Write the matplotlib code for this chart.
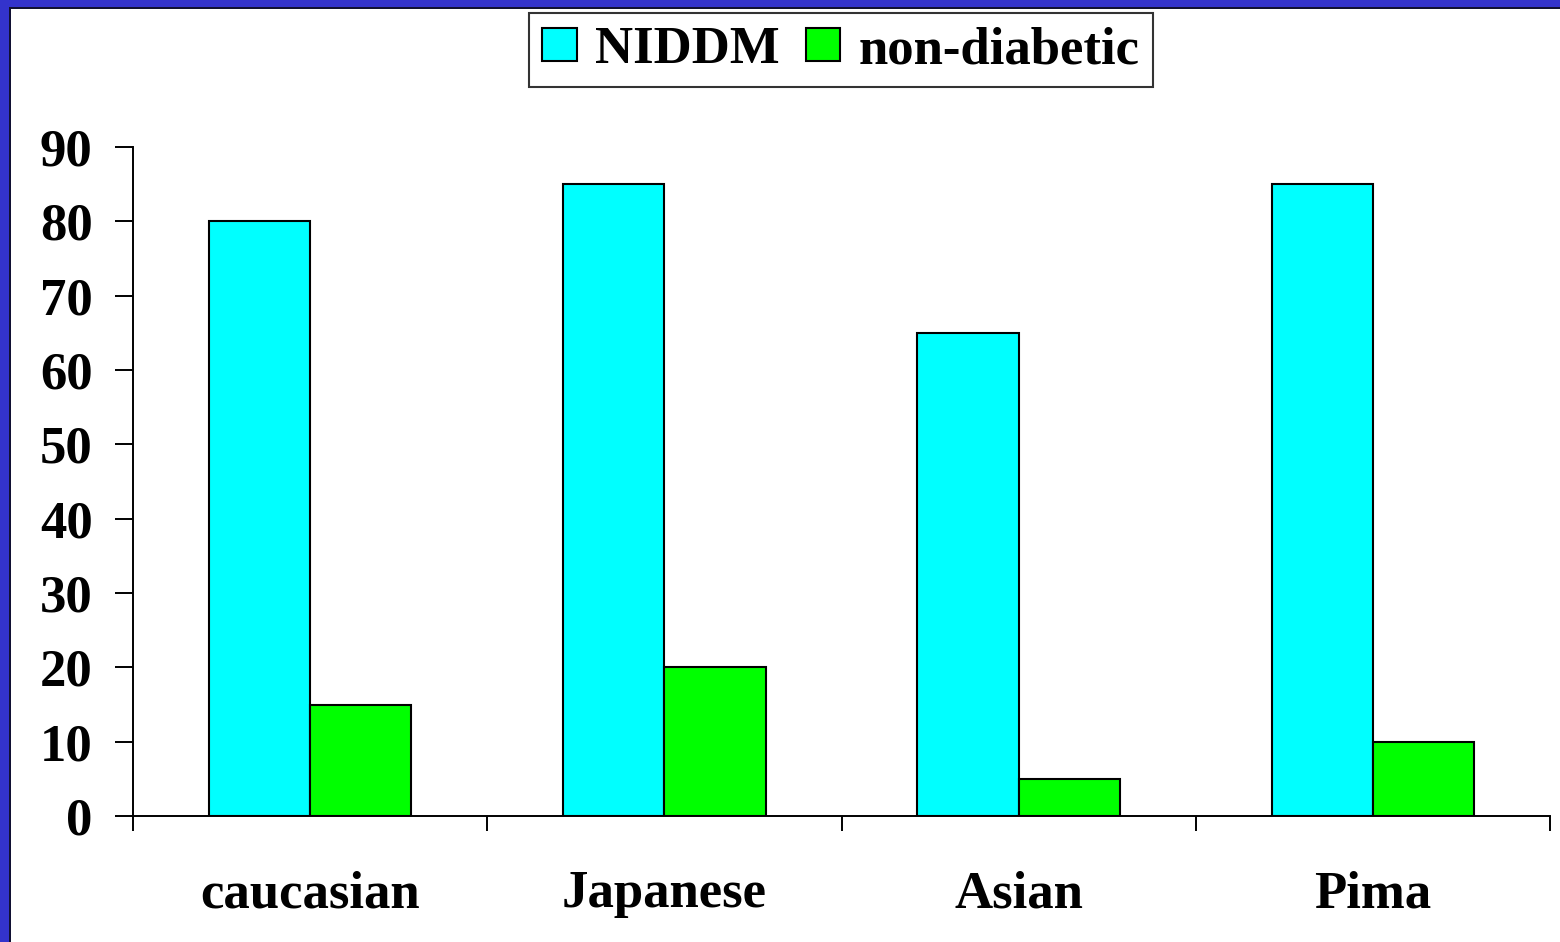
import matplotlib
matplotlib.use("Agg")
import matplotlib.pyplot as plt
from matplotlib.patches import Rectangle
import numpy as np

categories = ["caucasian", "Japanese", "Asian", "Pima"]
niddm = [80, 85, 65, 85]
non_diabetic = [15, 20, 5, 10]
series_names = ["NIDDM", "non-diabetic"]
y_ticks = [0, 10, 20, 30, 40, 50, 60, 70, 80, 90]

plt.rcParams["font.family"] = ["Liberation Serif", "DejaVu Serif"]
plt.rcParams["font.weight"] = "bold"

fig = plt.figure(figsize=(15.6, 9.42), dpi=100)
fig.patch.set_facecolor("white")

# slide frame: blue band with a thin dark edge along the top and left
fig.add_artist(Rectangle((0, 0), 10 / 1560, 1, transform=fig.transFigure,
                         facecolor="#3333CC", edgecolor="none", zorder=5))
fig.add_artist(Rectangle((0, 1 - 7 / 942), 1, 7 / 942, transform=fig.transFigure,
                         facecolor="#3333CC", edgecolor="none", zorder=5))
fig.add_artist(Rectangle((9 / 1560, 0), 2 / 1560, 1 - 7 / 942, transform=fig.transFigure,
                         facecolor="#111133", edgecolor="none", zorder=6))
fig.add_artist(Rectangle((9 / 1560, 1 - 9 / 942), 1 - 9 / 1560, 2 / 942, transform=fig.transFigure,
                         facecolor="#111133", edgecolor="none", zorder=6))

ax = fig.add_axes([133 / 1560, 1 - 816 / 942, (1550 - 133) / 1560, (816 - 147) / 942])

x = np.arange(len(categories))
w = 0.286
b1 = ax.bar(x - w / 2, niddm, width=w, color="#00FFFF", edgecolor="black", linewidth=1.5, label=series_names[0])
b2 = ax.bar(x + w / 2, non_diabetic, width=w, color="#00FF00", edgecolor="black", linewidth=1.5, label=series_names[1])

ax.set_xlim(-0.5, len(categories) - 0.5)
ax.set_ylim(0, 90)
ax.set_yticks(y_ticks)
ax.set_yticklabels([str(v) for v in y_ticks], fontsize=38, fontweight="bold")
ax.tick_params(axis="y", direction="out", length=13, width=1.4, pad=16)

ax.set_xticks(np.arange(len(categories) + 1) - 0.5)
ax.set_xticklabels([])
ax.tick_params(axis="x", which="major", direction="out", length=11, width=1.4)
ax.set_xticks(x, minor=True)
ax.set_xticklabels(categories, minor=True, fontsize=38, fontweight="bold")
ax.tick_params(axis="x", which="minor", length=0, pad=39)

for s in ["top", "right"]:
    ax.spines[s].set_visible(False)
for s in ["left", "bottom"]:
    ax.spines[s].set_linewidth(1.4)

leg = fig.legend(handles=[b1, b2], labels=series_names, loc="upper center",
                 bbox_to_anchor=(841 / 1560, 1 - 13 / 942), ncol=2,
                 prop={"family": "Liberation Serif", "weight": "bold", "size": 38},
                 frameon=True, fancybox=False, edgecolor="black",
                 handlelength=0.65, handleheight=0.6, handletextpad=0.35,
                 columnspacing=0.5, borderpad=0.25, borderaxespad=0)
leg.get_frame().set_linewidth(1.5)

fig.savefig("out.png", dpi=100, facecolor="white")
